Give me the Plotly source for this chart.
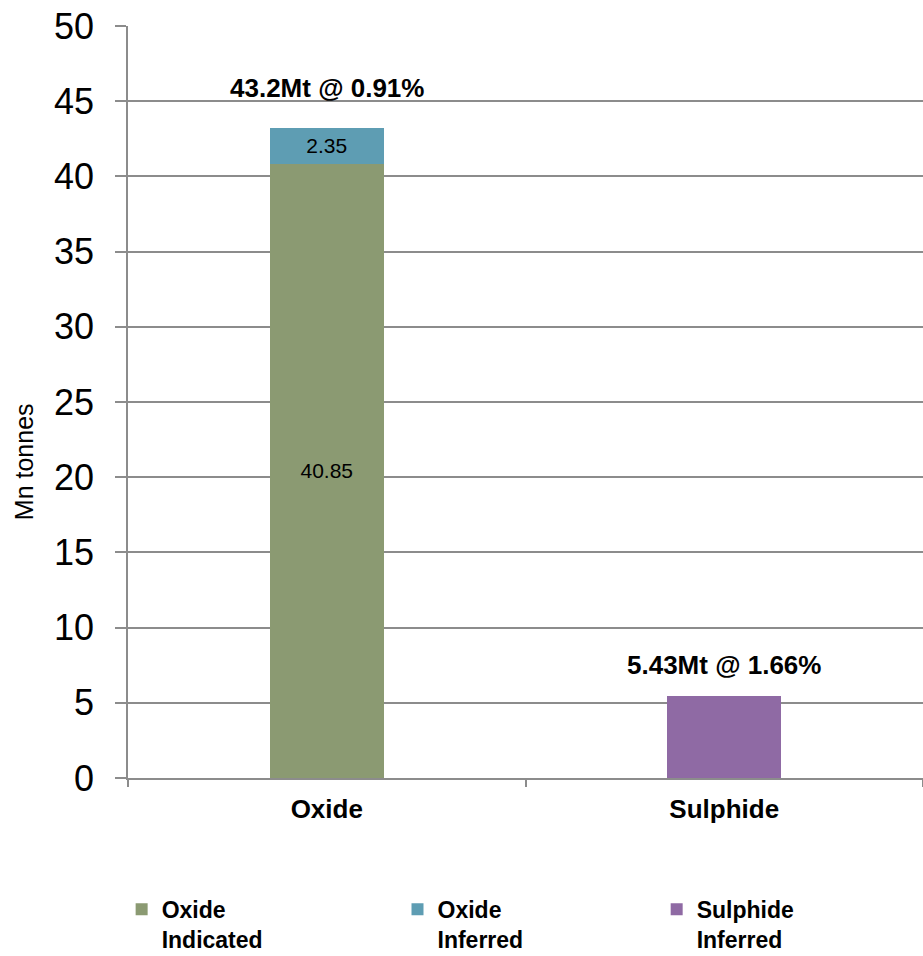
import plotly.graph_objects as go

# Resource categories and tonnages (million tonnes)
categories = ["Oxide", "Sulphide"]
oxide_indicated = [40.85, None]
oxide_inferred = [2.35, None]
sulphide_inferred = [None, 5.43]
total_labels = ["43.2Mt @ 0.91%", "5.43Mt @ 1.66%"]
totals = [43.2, 5.43]

y_ticks = [0, 5, 10, 15, 20, 25, 30, 35, 40, 45, 50]
y_title = "Mn tonnes"

FONT = "Arial, Liberation Sans, sans-serif"
GRID = "#8c8c8c"

series = [
    ("Oxide<br>Indicated", oxide_indicated, "#8b9a72", "legend", True),
    ("Oxide<br>Inferred", oxide_inferred, "#5e9db3", "legend2", True),
    ("Sulphide<br>Inferred", sulphide_inferred, "#8f6aa4", "legend3", False),
]

fig = go.Figure()
for name, vals, color, leg, labelled in series:
    fig.add_trace(go.Bar(
        x=categories,
        y=vals,
        name=name,
        marker=dict(color=color, line=dict(width=0)),
        text=[f"{v:.2f}" if (v is not None and labelled) else "" for v in vals],
        textposition="inside",
        insidetextanchor="middle",
        constraintext="none",
        textfont=dict(family=FONT, size=21, color="black"),
        legend=leg,
        hoverinfo="skip",
    ))

# Total tonnage and grade above each column
label_shift = [40, 31]
for cat, tot, lab, shift in zip(categories, totals, total_labels, label_shift):
    fig.add_annotation(
        x=cat, y=tot, text=f"<b>{lab}</b>", showarrow=False,
        yanchor="middle", yshift=shift,
        font=dict(family=FONT, size=26, color="black"),
    )

# Vertical axis title, sitting in the lower half of the axis
fig.add_annotation(
    xref="paper", yref="paper", x=-0.1308, y=0.42,
    xanchor="center", yanchor="middle",
    text=y_title, textangle=-90, showarrow=False,
    font=dict(family=FONT, size=25, color="black"),
)

legend_style = dict(
    orientation="v", yanchor="top", xanchor="left", y=-0.146,
    valign="top", bgcolor="rgba(0,0,0,0)",
    font=dict(family=FONT, size=23, color="black", weight="bold"),
    itemclick=False, itemdoubleclick=False,
)

fig.update_layout(
    width=923, height=956,
    margin=dict(l=128, r=0, t=26, b=178, autoexpand=False),
    paper_bgcolor="white", plot_bgcolor="white",
    barmode="stack", bargap=0.713,
    font=dict(family=FONT, color="black"),
    showlegend=True,
    legend=dict(x=-0.008, **legend_style),
    legend2=dict(x=0.339, **legend_style),
    legend3=dict(x=0.665, **legend_style),
    xaxis=dict(
        type="category",
        showline=True, linecolor=GRID, linewidth=1.5,
        ticks="outside", tickson="boundaries", ticklen=7,
        tickcolor=GRID, tickwidth=1.5,
        showgrid=False,
        tickfont=dict(family=FONT, size=26, color="black", weight="bold"),
        ticklabelstandoff=7,
    ),
    yaxis=dict(
        range=[0, 50], tickvals=y_ticks,
        showline=True, linecolor=GRID, linewidth=1.5,
        ticks="outside", ticklen=11, tickcolor=GRID, tickwidth=1.5,
        showgrid=True, gridcolor=GRID, gridwidth=1.5,
        zeroline=False,
        tickfont=dict(family=FONT, size=36, color="black"),
        ticklabelstandoff=14,
    ),
)

fig.write_html("out.html")
